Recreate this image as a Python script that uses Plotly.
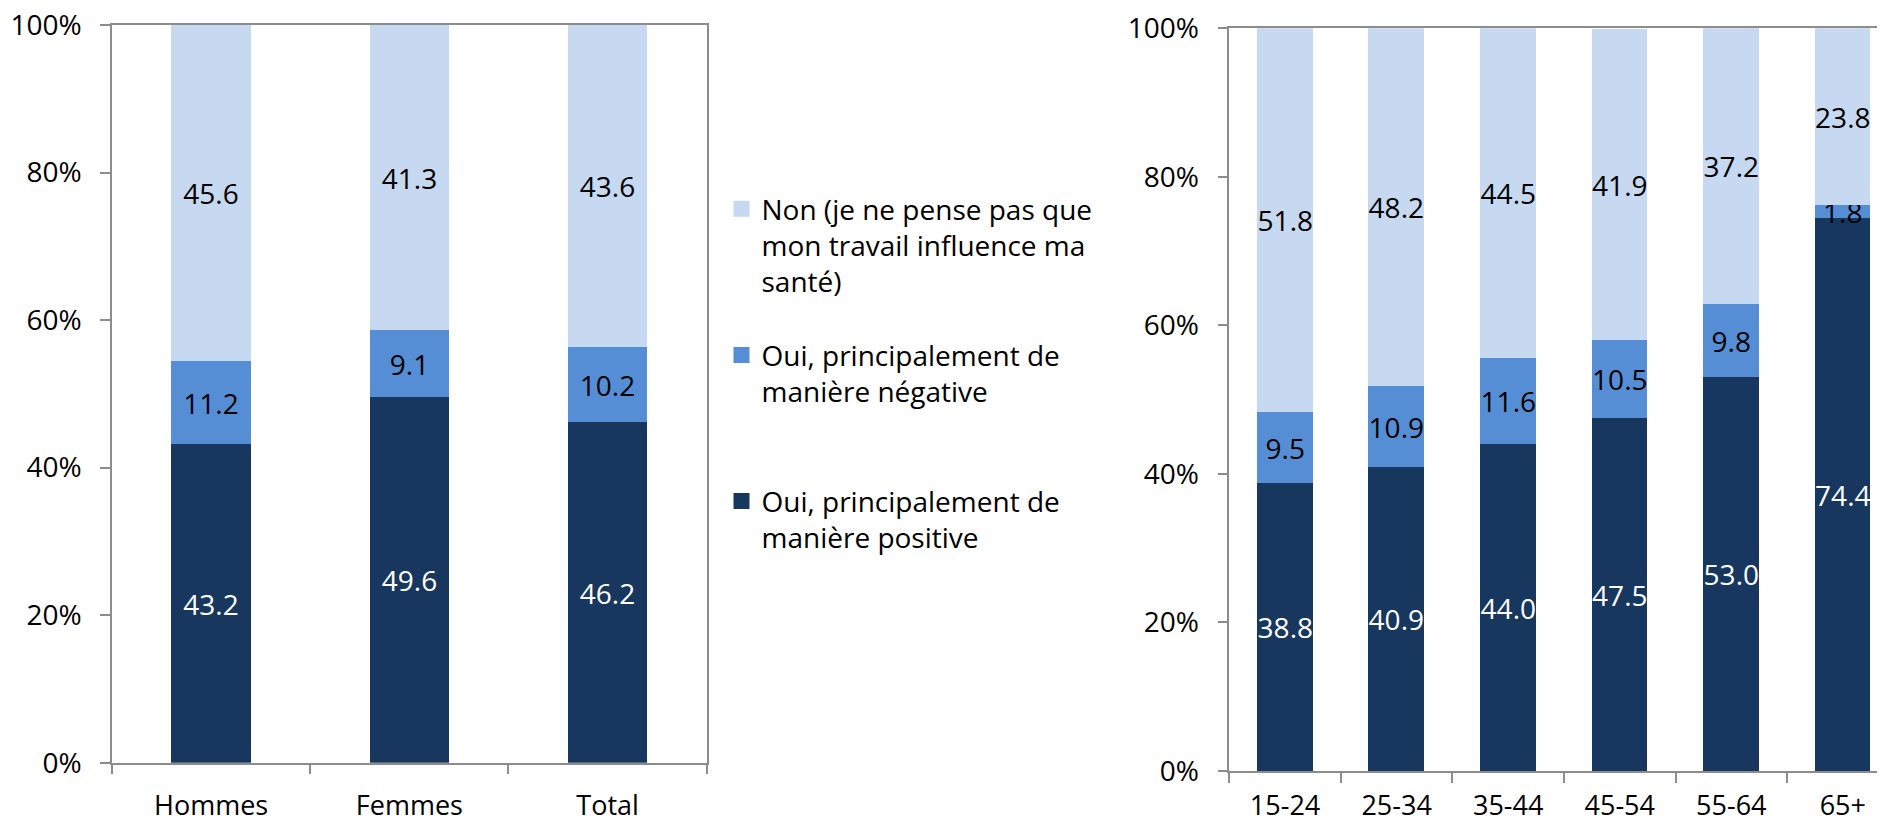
import plotly.graph_objects as go

# ---- data ----
sexe = ["Hommes", "Femmes", "Total"]
positive_sexe = [43.2, 49.6, 46.2]
negative_sexe = [11.2, 9.1, 10.2]
non_sexe = [45.6, 41.3, 43.6]

ages = ["15-24", "25-34", "35-44", "45-54", "55-64", "65+"]
positive_age = [38.8, 40.9, 44.0, 47.5, 53.0, 74.4]
negative_age = [9.5, 10.9, 11.6, 10.5, 9.8, 1.8]
non_age = [51.8, 48.2, 44.5, 41.9, 37.2, 23.8]

series_names = [
    "Oui, principalement de<br>manière positive<br> ",
    "Oui, principalement de<br>manière négative<br> ",
    "Non (je ne pense pas que<br>mon travail influence ma<br>santé)",
]
colors = ["#18375E", "#558ED5", "#C6D9F1"]
text_colors = ["white", "black", "black"]
ranks = [3, 2, 1]

y_ticks = [0, 20, 40, 60, 80, 100]
y_tick_labels = ["0%", "20%", "40%", "60%", "80%", "100%"]

FONT = "Open Sans"
# the page body has an 8px margin; the figure is sized so it ends at 1885x824
OFF = 8
W, H = 1885 - OFF, 824 - OFF


def px_x(page_x):
    return (page_x - OFF) / W


def px_y(page_y):
    return 1 - (page_y - OFF) / H


fig = go.Figure()

left_series = [positive_sexe, negative_sexe, non_sexe]
right_series = [positive_age, negative_age, non_age]

for i in range(3):
    fig.add_trace(go.Bar(
        x=sexe, y=left_series[i], name=series_names[i],
        marker=dict(color=colors[i], line=dict(width=0)),
        width=0.4,
        texttemplate="%{y:.1f}", textposition="inside", insidetextanchor="middle",
        textangle=0,
        textfont=dict(family=FONT, size=28, color=text_colors[i]),
        constraintext="none",
        legendgroup="g%d" % i, showlegend=False,
        xaxis="x", yaxis="y", hoverinfo="skip",
    ))
for i in range(3):
    fig.add_trace(go.Bar(
        x=ages, y=right_series[i], name=series_names[i],
        marker=dict(color=colors[i], line=dict(width=0)),
        width=0.5,
        texttemplate="%{y:.1f}", textposition="inside", insidetextanchor="middle",
        textangle=0,
        textfont=dict(family=FONT, size=28, color=text_colors[i]),
        constraintext="none",
        legendgroup="g%d" % i, showlegend=False,
        xaxis="x2", yaxis="y2", hoverinfo="skip",
    ))
# legend entries (square swatches, no data drawn)
for i in range(3):
    fig.add_trace(go.Scatter(
        x=[None], y=[None], mode="markers", name=series_names[i],
        marker=dict(symbol="square", size=18, color=colors[i]),
        legendgroup="g%d" % i, legendrank=ranks[i], showlegend=True,
        xaxis="x", yaxis="y", hoverinfo="skip",
    ))

axis_color = "#8C8C8C"


def xaxis_style(domain, rng, standoff):
    return dict(
        domain=domain, range=rng, type="category",
        showline=True, linecolor=axis_color, linewidth=1.5, mirror=True,
        ticks="outside", ticklen=10, tickwidth=1.5, tickcolor=axis_color,
        tickson="boundaries", showgrid=False, zeroline=False,
        tickfont=dict(family=FONT, size=27, color="black"),
        ticklabelstandoff=standoff, ticklabeloverflow="allow",
        automargin=False, fixedrange=True,
    )


def yaxis_style(domain, mirror):
    return dict(
        domain=domain, range=[0, 100],
        tickmode="array", tickvals=y_ticks, ticktext=y_tick_labels,
        showline=True, linecolor=axis_color, linewidth=1.5, mirror=mirror,
        ticks="outside", ticklen=10, tickwidth=1.5, tickcolor=axis_color,
        showgrid=False, zeroline=False,
        tickfont=dict(family=FONT, size=28, color="black"),
        ticklabelstandoff=13, ticklabeloverflow="allow",
        automargin=False, fixedrange=True,
    )


fig.update_layout(
    width=W, height=H,
    margin=dict(l=0, r=0, t=0, b=0),
    paper_bgcolor="white", plot_bgcolor="white",
    barmode="stack", bargap=0,
    font=dict(family=FONT, size=28, color="black"),
    uniformtext=dict(mode="show", minsize=28),
    xaxis=xaxis_style([px_x(112), px_x(706.7)], [-0.5, 2.5], 18),
    yaxis=dict(yaxis_style([px_y(762.7), px_y(25)], True), anchor="x"),
    xaxis2=dict(xaxis_style([px_x(1229.3), 1.0], [-0.5, 5.378], 10), anchor="y2"),
    yaxis2=dict(yaxis_style([px_y(771), px_y(28.3)], False), anchor="x2"),
    showlegend=True,
    legend=dict(
        x=(713.5) / W, xanchor="left",
        y=1 - 176 / H, yanchor="top",
        traceorder="grouped", tracegroupgap=34, valign="top",
        font=dict(family=FONT, size=28, color="black"),
        bgcolor="rgba(0,0,0,0)", borderwidth=0,
    ),
)

fig.write_html("out.html")
